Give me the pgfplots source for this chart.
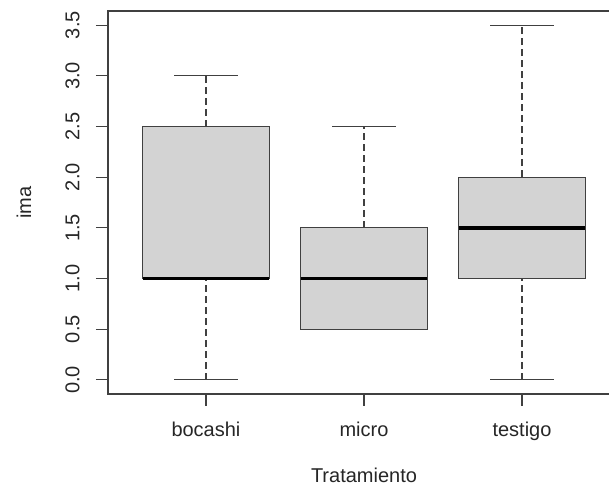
\documentclass[border=0pt]{standalone}
\usepackage{fontspec}
\setmainfont{Liberation Sans}
\usepackage{pgfplots}
\pgfplotsset{compat=1.18}
\definecolor{boxfill}{HTML}{D3D3D3}
\definecolor{axgray}{HTML}{404040}
\begin{document}
\begin{tikzpicture}
\begin{axis}[
  scale only axis, width=256pt, height=191.5pt,
  at={(0,0)}, anchor=south west,
  xmin=0.38, xmax=3.62, ymin=-0.14, ymax=3.64,
  xtick={1,2,3}, xticklabels={bocashi,micro,testigo},
  ytick={0,0.5,1,1.5,2,2.5,3,3.5},
  /pgf/number format/assume math mode=true,
  yticklabel={\pgfmathprintnumber[fixed,fixed zerofill,precision=1]{\tick}},
  tick align=outside, major tick length=6pt,
  xtick pos=lower, ytick pos=left,
  axis line style={axgray, line width=0.6pt},
  every tick/.style={axgray, line width=0.6pt},
  tick label style={font=\fontsize{10}{12}\selectfont, text=black!85},
  yticklabel style={rotate=90, anchor=south, inner sep=0pt},
  xticklabel style={anchor=north, inner sep=0pt},
  yticklabel shift=8pt, xticklabel shift=8pt,
  xlabel={Tratamiento}, ylabel={ima},
  label style={font=\fontsize{10}{12}\selectfont, text=black!85},
  xlabel style={at={(axis description cs:0.5,-0.213)}, anchor=center},
  ylabel style={at={(axis description cs:-0.164,0.5)}, anchor=center},
  clip=false,
]
% whiskers (dashed)
\addplot[axgray, line width=0.6pt, dash pattern=on 3.5pt off 2pt] coordinates {(1,0) (1,1.0)};
\addplot[axgray, line width=0.6pt, dash pattern=on 3.5pt off 2pt] coordinates {(1,2.5) (1,3.0)};
\addplot[axgray, line width=0.6pt, dash pattern=on 3.5pt off 2pt] coordinates {(2,1.5) (2,2.5)};
\addplot[axgray, line width=0.6pt, dash pattern=on 3.5pt off 2pt] coordinates {(3,0) (3,1.0)};
\addplot[axgray, line width=0.6pt, dash pattern=on 3.5pt off 2pt] coordinates {(3,2.0) (3,3.5)};
% caps
\addplot[axgray, line width=0.6pt] coordinates {(0.8,0) (1.2,0)};
\addplot[axgray, line width=0.6pt] coordinates {(0.8,3.0) (1.2,3.0)};
\addplot[axgray, line width=0.6pt] coordinates {(1.8,0.5) (2.2,0.5)};
\addplot[axgray, line width=0.6pt] coordinates {(1.8,2.5) (2.2,2.5)};
\addplot[axgray, line width=0.6pt] coordinates {(2.8,0) (3.2,0)};
\addplot[axgray, line width=0.6pt] coordinates {(2.8,3.5) (3.2,3.5)};
% boxes
\addplot[draw=axgray, fill=boxfill, line width=0.6pt] coordinates {(0.6,1.0) (1.4,1.0) (1.4,2.5) (0.6,2.5)} -- cycle;
\addplot[draw=axgray, fill=boxfill, line width=0.6pt] coordinates {(1.6,0.5) (2.4,0.5) (2.4,1.5) (1.6,1.5)} -- cycle;
\addplot[draw=axgray, fill=boxfill, line width=0.6pt] coordinates {(2.6,1.0) (3.4,1.0) (3.4,2.0) (2.6,2.0)} -- cycle;
% medians
\addplot[black, line width=1.8pt] coordinates {(0.6,1.0) (1.4,1.0)};
\addplot[black, line width=1.8pt] coordinates {(1.6,1.0) (2.4,1.0)};
\addplot[black, line width=1.8pt] coordinates {(2.6,1.5) (3.4,1.5)};
\end{axis}
\pgfresetboundingbox
\useasboundingbox (-54pt,-45.5pt) rectangle (250.5pt,197pt);
\end{tikzpicture}
\end{document}
